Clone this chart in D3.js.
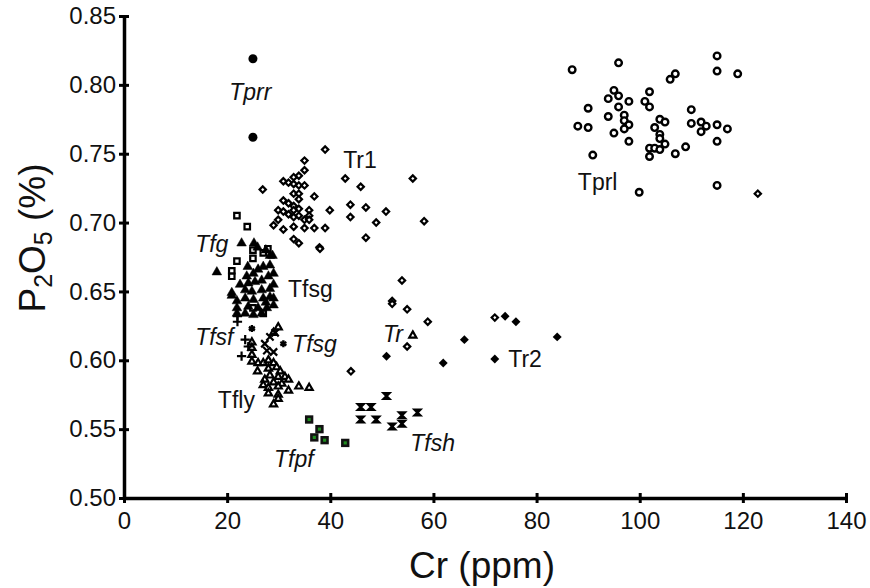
<!DOCTYPE html>
<html>
<head>
<meta charset="utf-8">
<script src="https://cdn.jsdelivr.net/npm/d3@7"></script>
<style>
  body { margin: 0; background: #fff; }
  text { font-family: "Liberation Sans", Arial, sans-serif; fill: #111; }
</style>
</head>
<body>
<script>

// data : [Cr ppm, P2O5 %]
var tprl = [[86.9,.811],[95.9,.816],[115.0,.821],[115.0,.810],[119.0,.808],[106.9,.808],[105.9,.804],[95.0,.796],[93.9,.790],[95.9,.792],[97.9,.788],[101.9,.795],[101.0,.788],[101.9,.784],[90.0,.783],[95.9,.784],[93.9,.777],[97.0,.778],[97.0,.774],[97.9,.771],[97.0,.768],[88.0,.770],[90.0,.769],[95.0,.765],[97.9,.759],[90.9,.749],[103.9,.775],[104.9,.773],[102.9,.769],[103.9,.764],[103.9,.761],[104.9,.757],[101.9,.754],[102.9,.754],[103.9,.753],[101.9,.748],[106.9,.750],[108.9,.755],[110.0,.782],[110.0,.772],[111.9,.773],[112.9,.770],[111.9,.766],[115.0,.771],[117.0,.768],[115.0,.759],[115.0,.727],[99.9,.722]]
var tprr = [[25.0,.819],[25.0,.762]]
var tr1 = [[39.0,.753],[35.0,.745],[35.0,.738],[30.9,.730],[31.9,.729],[32.9,.733],[33.9,.734],[32.9,.728],[33.9,.727],[35.0,.727],[26.9,.724],[32.9,.721],[33.9,.721],[33.9,.717],[36.9,.719],[30.9,.716],[31.9,.714],[32.9,.712],[29.9,.709],[30.9,.708],[31.9,.706],[32.9,.709],[33.9,.710],[32.9,.704],[33.9,.705],[35.9,.709],[35.9,.705],[39.9,.709],[29.9,.702],[29.0,.698],[30.9,.695],[32.9,.697],[35.0,.702],[35.0,.696],[35.9,.702],[36.9,.696],[39.0,.696],[32.9,.688],[33.9,.685],[37.9,.682],[42.9,.732],[45.9,.726],[43.9,.713],[46.9,.711],[43.9,.704],[48.9,.700],[46.9,.689],[38.0,.681],[50.8,.708],[56.0,.732],[58.2,.701],[122.9,.721]]
var tr = [[53.9,.658],[52.0,.643],[52.0,.641],[54.9,.637],[58.9,.628],[54.9,.610],[44.0,.592],[71.9,.631]]
var trTri = [[56.0,.618]]
var tr2 = [[73.9,.632],[76.0,.628],[84.0,.617],[66.0,.615],[50.9,.603],[61.9,.598],[71.9,.601]]
var tfsh = [[50.9,.574],[45.9,.566],[47.9,.566],[45.9,.557],[48.9,.557],[53.9,.560],[56.9,.562],[52.0,.552],[53.9,.554]]
var tfpf = [[35.9,.557],[37.9,.550],[36.9,.544],[38.9,.542],[42.9,.540]]
var tfg = [[21.9,.705],[23.9,.697],[25.0,.680],[27.9,.681],[21.9,.672],[20.9,.665],[20.9,.661],[25.0,.674],[25.0,.638],[27.0,.634],[27.0,.678]]
var tfsg = [[22.8,.685],[25.2,.685],[18.0,.664],[27.5,.680],[28.3,.676],[23.8,.661],[25.1,.663],[26.0,.666],[27.0,.668],[28.3,.669],[24.1,.656],[25.4,.657],[26.7,.658],[28.0,.661],[29.0,.663],[20.9,.649],[23.5,.651],[24.8,.650],[26.7,.651],[28.3,.652],[23.5,.645],[25.1,.644],[27.0,.645],[28.3,.646],[21.9,.643],[21.9,.638],[21.9,.634],[24.1,.639],[26.0,.638],[27.7,.638],[26.7,.634],[25.1,.633],[23.5,.634],[20.9,.647],[28.8,.676],[25.9,.682],[29.0,.655],[29.0,.645],[24.0,.668],[22.5,.655],[29.0,.640],[27.5,.642]]
var tfsfPlus = [[22.0,.632],[22.8,.603],[23.5,.615],[24.1,.610],[22.0,.628]]
var tfsfStar = [[24.8,.623],[30.9,.612]]
var tfsgX = [[27.3,.612],[28.3,.617],[29.3,.620],[27.7,.607],[29.0,.606]]
var tfly = [[29.9,.624],[29.0,.620],[24.8,.613],[24.8,.609],[24.8,.604],[24.8,.599],[26.0,.598],[27.0,.598],[28.0,.600],[29.0,.598],[25.9,.592],[28.0,.594],[29.6,.595],[30.3,.592],[28.3,.589],[29.9,.588],[31.2,.588],[31.9,.586],[27.3,.586],[29.0,.584],[30.6,.583],[27.0,.582],[28.0,.580],[29.9,.581],[31.9,.578],[28.0,.576],[29.9,.575],[29.9,.572],[29.0,.568],[33.9,.581],[35.9,.580]]

// labels : text, italic, Cr, P (anchor at start / baseline)
var labelText = ["Tprr", "Tr1", "Tprl", "Tfg", "Tfsg", "Tfsf", "Tfsg", "Tr", "Tr2", "Tfly", "Tfsh", "Tfpf"]
var labelItalic = [true, false, false, true, false, true, true, true, false, false, true, true]
var labelCr = [20.4, 42.5, 88.0, 13.8, 31.8, 13.8, 32.6, 50.2, 74.5, 18.2, 55.5, 29.1]
var labelP = [.789, .7395, .7235, .6785, .6459, .611, .606, .6132, .595, .5653, .534, .5225]

var xTicks = [0, 20, 40, 60, 80, 100, 120, 140]
var yTicks = [0.50, 0.55, 0.60, 0.65, 0.70, 0.75, 0.80, 0.85]

var svg = d3.select("body").append("svg")
  .attr("width", 870)
  .attr("height", 588)

var xScale = d3.scaleLinear().domain([0, 140]).range([124, 846])
var yScale = d3.scaleLinear().domain([0.5, 0.85]).range([498, 16])

/* AXES */

var xAxis = d3.axisBottom(xScale).tickValues(xTicks).tickSizeInner(5).tickSizeOuter(0).tickPadding(9)
var yAxis = d3.axisLeft(yScale).tickValues(yTicks).tickSizeInner(5).tickSizeOuter(0).tickPadding(3)
  .tickFormat(d3.format(".2f"))

var gx = svg.append("g").attr("class", "xAxis")
  .attr("transform", "translate(0,498)")
  .call(xAxis)
var gy = svg.append("g").attr("class", "yAxis")
  .attr("transform", "translate(124,0)")
  .call(yAxis)

;[gx, gy].forEach(function(g){
  g.select(".domain").attr("stroke", "#000").attr("stroke-width", 3.5)
  g.selectAll(".tick line").attr("stroke", "#000").attr("stroke-width", 3)
  g.selectAll(".tick text").style("font-size", "24px").attr("fill", "#111")
    .style("font-family", "Liberation Sans, Arial, sans-serif")
})
// ticks crossing the axis
gx.selectAll(".tick line").attr("y1", -5).attr("y2", 5)
gy.selectAll(".tick line").attr("x1", -5).attr("x2", 5)

svg.append("text")
  .attr("x", 482)
  .attr("y", 578)
  .attr("text-anchor", "middle")
  .style("font-size", "37px")
  .text("Cr (ppm)")

var yTitle = svg.append("text")
  .attr("transform", "translate(45,238) rotate(-90)")
  .attr("text-anchor", "middle")
  .style("font-size", "37px")
yTitle.append("tspan").text("P")
yTitle.append("tspan").attr("dy", 7).style("font-size", "25px").text("2")
yTitle.append("tspan").attr("dy", -7).text("O")
yTitle.append("tspan").attr("dy", 7).style("font-size", "25px").text("5")
yTitle.append("tspan").attr("dy", -7).text(" (%)")

/* MARKERS */

function sym(type, size) {
  return d3.symbol().type(type).size(size)()
}

var hourglass = "M-2.8,-2.8H2.8L-2.8,2.8H2.8Z"

function plot(data, path, fill, stroke, sw, rot) {
  svg.append("g")
    .selectAll("path")
    .data(data)
    .enter()
    .append("path")
    .attr("d", path)
    .attr("transform", function(d){
      return "translate(" + xScale(d[0]) + "," + yScale(d[1]) + ")" + (rot ? " rotate(" + rot + ")" : "")
    })
    .attr("fill", fill)
    .attr("stroke", stroke)
    .attr("stroke-width", sw)
}

plot(tprl, sym(d3.symbolCircle, 34), "#fff", "#000", 2.4)
plot(tprr, sym(d3.symbolCircle, 64), "#000", "none", 0)
plot(tr1, sym(d3.symbolSquare, 20), "#fff", "#000", 2.2, 45)
plot(tr, sym(d3.symbolSquare, 20), "#fff", "#000", 2.2, 45)
plot(tr2, sym(d3.symbolSquare, 40), "#000", "none", 0, 45)
plot(tfg, sym(d3.symbolSquare, 30), "#fff", "#000", 2.2)
plot(tfsg, sym(d3.symbolTriangle, 40), "#000", "#000", 0.5)
plot(tfly, sym(d3.symbolTriangle, 22), "#fff", "#000", 2.2)
plot(trTri, sym(d3.symbolTriangle, 22), "#fff", "#000", 2.2)
plot(tfsfPlus, sym(d3.symbolPlus, 30), "none", "#000", 2.2)
plot(tfsfStar, sym(d3.symbolAsterisk, 34), "none", "#000", 2.4)
plot(tfsgX, sym(d3.symbolTimes, 36), "none", "#000", 2.2)
plot(tfsh, hourglass, "none", "#000", 2.4)
plot(tfpf, sym(d3.symbolSquare, 70), "#111", "none", 0)
plot(tfpf, sym(d3.symbolSquare, 10), "#1e8c1e", "none", 0)

/* LABELS */

svg.append("g")
  .selectAll("text")
  .data(labelText)
  .enter()
  .append("text")
  .attr("x", function(d, i){ return xScale(labelCr[i]) })
  .attr("y", function(d, i){ return yScale(labelP[i]) })
  .style("font-size", "23px")
  .style("font-style", function(d, i){ return labelItalic[i] ? "italic" : "normal" })
  .text(function(d){ return d })

</script>
</body>
</html>
